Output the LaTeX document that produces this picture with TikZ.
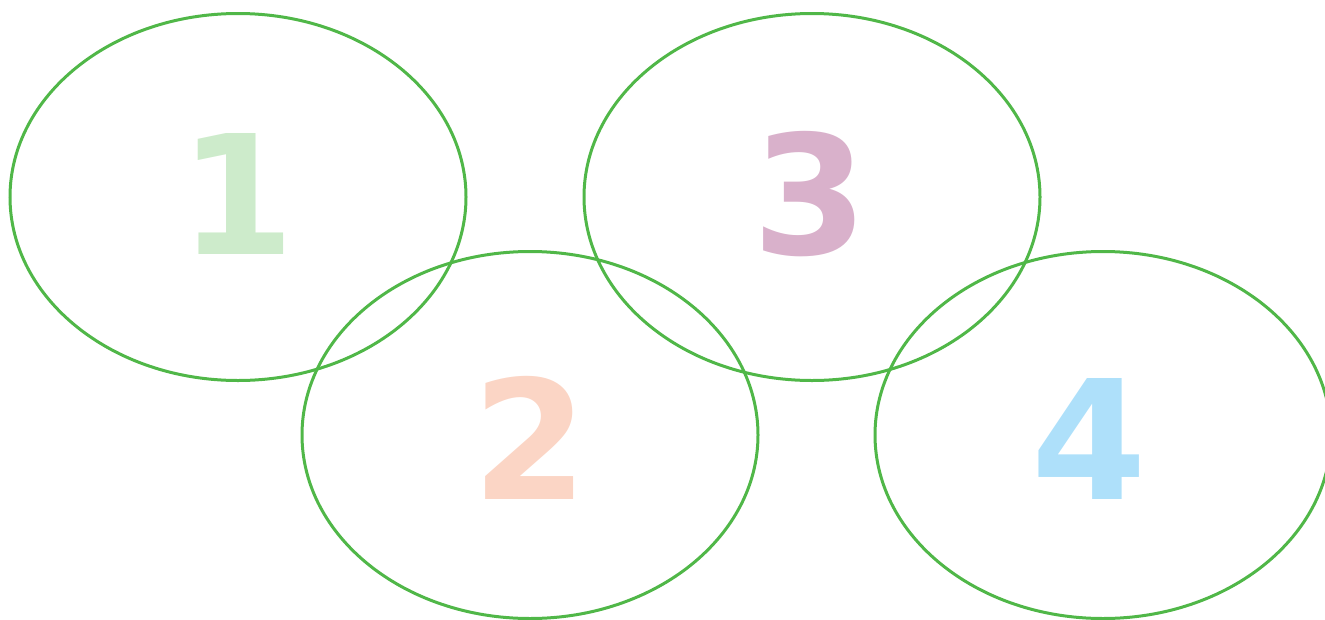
\documentclass[tikz,border=0pt]{standalone}
\usepackage{fontspec}
\setmainfont{DejaVu Sans}
\usetikzlibrary{shapes.geometric}
\definecolor{ringgreen}{HTML}{50B748}
\definecolor{cone}{HTML}{CDEBCB}
\definecolor{ctwo}{HTML}{FBD5C5}
\definecolor{cthree}{HTML}{D9B1CB}
\definecolor{cfour}{HTML}{AEE0FA}
\tikzset{
  ring/.style={ellipse, draw=ringgreen, line width=3pt, minimum width=456pt, minimum height=367pt, inner sep=0pt},
  digit/.style={font=\fontsize{166}{166}\selectfont\bfseries, inner sep=0pt}
}
\begin{document}
\begin{tikzpicture}[x=1pt,y=-1pt]
\useasboundingbox (0,0) rectangle (1325,619);
\node[ring] (e1) at (238,197) {};
\node[ring] (e2) at (530,435) {};
\node[ring] (e3) at (812,197) {};
\node[ring] (e4) at (1103,435) {};
\node[digit, text=cone] (n1) at (237,194) {1};
\node[digit, text=ctwo] (n2) at (530,438) {2};
\node[digit, text=cthree] (n3) at (810,194) {3};
\node[digit, text=cfour] (n4) at (1089,439) {4};
\end{tikzpicture}
\end{document}
